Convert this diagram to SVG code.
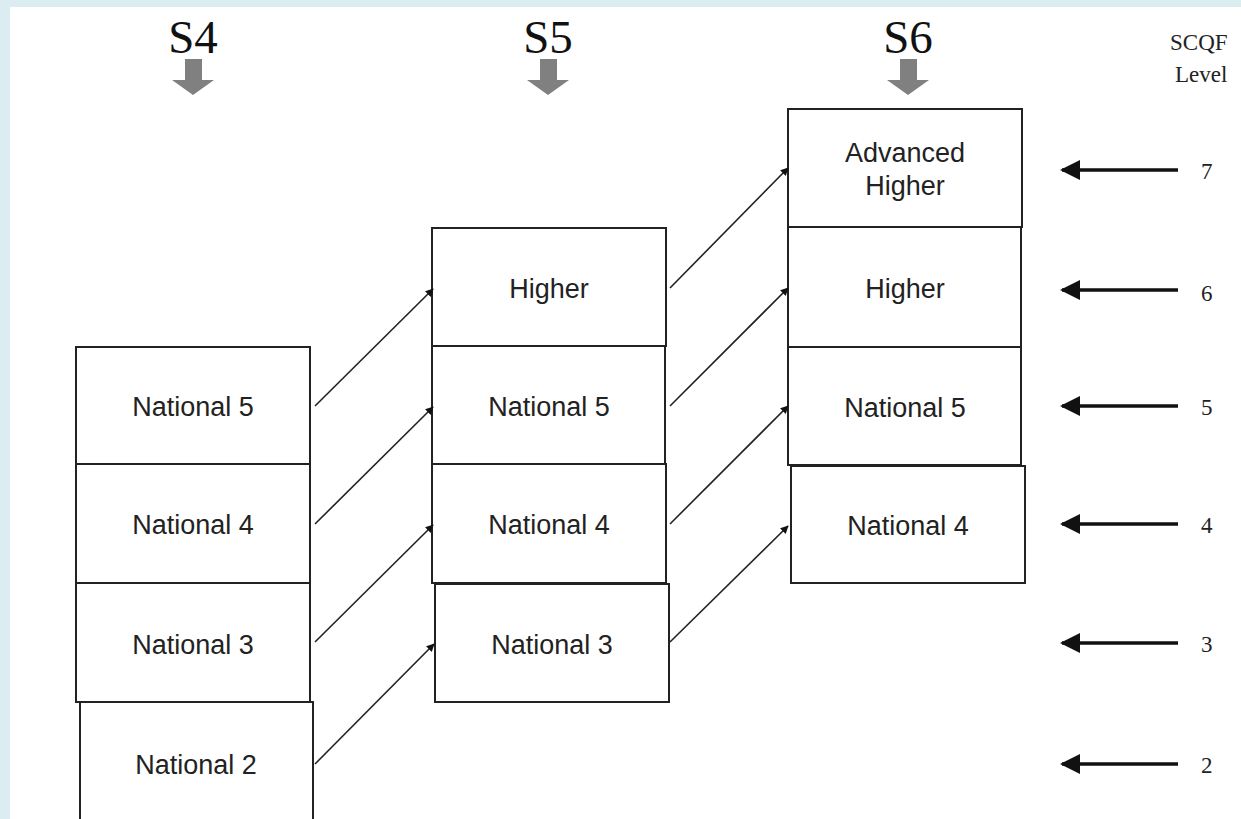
<svg xmlns="http://www.w3.org/2000/svg" width="1241" height="819" viewBox="0 0 1241 819">
<defs>
<style>
.box{fill:#fff;stroke:#222;stroke-width:2}
.lbl{font-family:"Liberation Sans",Arial,sans-serif;font-size:27px;fill:#222;text-anchor:middle}
.hd{font-family:"Liberation Serif","Times New Roman",serif;font-size:47px;fill:#111;text-anchor:middle}
.sm{font-family:"Liberation Serif","Times New Roman",serif;font-size:23px;fill:#222}
.con{stroke:#222;stroke-width:1.6;fill:none;marker-end:url(#ah)}
.lev{stroke:#111;stroke-width:3.5;fill:none;marker-end:url(#ah2)}
.ga{fill:#808080}
</style>
<marker id="ah" viewBox="0 0 10 10" refX="9" refY="5" markerWidth="9" markerHeight="8" orient="auto" markerUnits="userSpaceOnUse"><path d="M0,0 L10,5 L0,10 z" fill="#111"/></marker>
<marker id="ah2" viewBox="0 0 10 10" refX="9" refY="5" markerWidth="20" markerHeight="20" orient="auto" markerUnits="userSpaceOnUse"><path d="M0,0 L10,5 L0,10 z" fill="#111"/></marker>
</defs>
<rect x="0" y="0" width="1241" height="819" fill="#dbedf0"/>
<rect x="10" y="7" width="1231" height="812" fill="#fff"/>
<g id="headers">
<text class="hd" x="193" y="53">S4</text>
<text class="hd" x="548" y="53">S5</text>
<text class="hd" x="908" y="53">S6</text>
<path class="ga" d="M185,59 H202 V80 H214 L193,95 L172,80 H185 Z"/>
<path class="ga" d="M540,59 H557 V80 H569 L548,95 L527,80 H540 Z"/>
<path class="ga" d="M900,59 H917 V80 H929 L908,95 L887,80 H900 Z"/>
<text class="sm" x="1170" y="50">SCQF</text>
<text class="sm" x="1175" y="82">Level</text>
</g>
<g id="s4-n5"><rect class="box" x="76" y="347" width="234" height="117"/><text class="lbl" x="193" y="416">National 5</text></g>
<g id="s4-n4"><rect class="box" x="76" y="464" width="234" height="119"/><text class="lbl" x="193" y="534">National 4</text></g>
<g id="s4-n3"><rect class="box" x="76" y="583" width="234" height="119"/><text class="lbl" x="193" y="654">National 3</text></g>
<g id="s4-n2"><rect class="box" x="80" y="702" width="233" height="125"/><text class="lbl" x="196" y="774">National 2</text></g>
<g id="s5-h"><rect class="box" x="432" y="228" width="234" height="118"/><text class="lbl" x="549" y="298">Higher</text></g>
<g id="s5-n5"><rect class="box" x="432" y="346" width="233" height="118"/><text class="lbl" x="549" y="416">National 5</text></g>
<g id="s5-n4"><rect class="box" x="432" y="464" width="234" height="119"/><text class="lbl" x="549" y="534">National 4</text></g>
<g id="s5-n3"><rect class="box" x="435" y="584" width="234" height="118"/><text class="lbl" x="552" y="654">National 3</text></g>
<g id="s6-ah"><rect class="box" x="788" y="109" width="234" height="118"/><text class="lbl" x="905" y="162">Advanced</text><text class="lbl" x="905" y="195">Higher</text></g>
<g id="s6-h"><rect class="box" x="788" y="227" width="233" height="120"/><text class="lbl" x="905" y="298">Higher</text></g>
<g id="s6-n5"><rect class="box" x="788" y="347" width="233" height="118"/><text class="lbl" x="905" y="417">National 5</text></g>
<g id="s6-n4"><rect class="box" x="791" y="466" width="234" height="117"/><text class="lbl" x="908" y="535">National 4</text></g>
<g id="connectors">
<path class="con" d="M315,406 L433,289"/>
<path class="con" d="M315,524 L433,407"/>
<path class="con" d="M315,642 L433,525"/>
<path class="con" d="M315,764 L434,644"/>
<path class="con" d="M670,288 L788,168"/>
<path class="con" d="M670,406 L788,288"/>
<path class="con" d="M670,524 L788,406"/>
<path class="con" d="M670,642 L788,526"/>
<path class="lev" d="M1178,170 H1062"/>
<path class="lev" d="M1178,290 H1062"/>
<path class="lev" d="M1178,406 H1062"/>
<path class="lev" d="M1178,524 H1062"/>
<path class="lev" d="M1178,643 H1062"/>
<path class="lev" d="M1178,764 H1062"/>
</g>
<g id="levels">
<text class="sm" x="1201" y="179">7</text>
<text class="sm" x="1201" y="301">6</text>
<text class="sm" x="1201" y="415">5</text>
<text class="sm" x="1201" y="533">4</text>
<text class="sm" x="1201" y="652">3</text>
<text class="sm" x="1201" y="773">2</text>
</g>
</svg>
